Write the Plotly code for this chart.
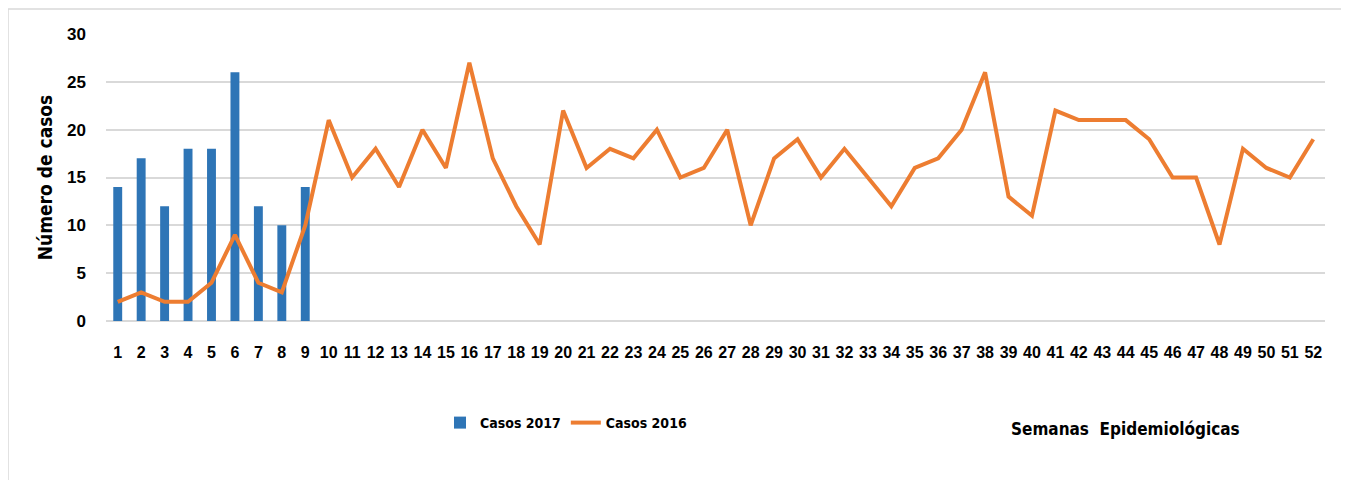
import plotly.graph_objects as go

weeks = [str(i) for i in range(1, 53)]
casos_2017 = [14, 17, 12, 18, 18, 26, 12, 10, 14]
casos_2016 = [2, 3, 2, 2, 4, 9, 4, 3, 10, 21, 15, 18, 14, 20, 16, 27, 17, 12, 8, 22,
              16, 18, 17, 20, 15, 16, 20, 10, 17, 19, 15, 18, 15, 12, 16, 17, 20, 26, 13, 11,
              22, 21, 21, 21, 19, 15, 15, 8, 18, 16, 15, 19]
y_ticks = [0, 5, 10, 15, 20, 25, 30]

# page body has an 8px margin: work in reference pixel coordinates, shift by 8
OFF = 8
W, H = 1349 - OFF, 480 - OFF
L, R, T, B = 106 - OFF, 24, 34 - OFF, 159
pw, ph = W - L - R, H - T - B

def px(x):
    return (x - OFF - L) / pw

def py(y):
    return (H - B - (y - OFF)) / ph

FONT = "Liberation Sans, Arial, sans-serif"
CFONT = "DejaVu Sans Condensed, Liberation Sans, sans-serif"

fig = go.Figure()
fig.add_trace(go.Bar(x=weeks[:len(casos_2017)], y=casos_2017, name="<b>Casos 2017</b>",
                     marker=dict(color="#2e75b6", line=dict(width=0)), width=0.38))
fig.add_trace(go.Scatter(x=weeks, y=casos_2016, name="<b>Casos 2016</b>", mode="lines",
                         line=dict(color="#ed7d31", width=4)))

fig.update_layout(
    width=W, height=H,
    margin=dict(l=L, r=R, t=T, b=B),
    paper_bgcolor="white", plot_bgcolor="white",
    font=dict(family=FONT, color="black", size=16),
    showlegend=True,
    legend=dict(orientation="h", x=px(440), y=py(423), xanchor="left", yanchor="middle",
                font=dict(family=CFONT, size=14, color="black"), itemwidth=30,
                bgcolor="rgba(0,0,0,0)", traceorder="normal"),
    xaxis=dict(type="category", categoryorder="array", categoryarray=weeks,
               range=[-0.5, 51.5], showgrid=False, showline=False, ticks="",
               tickfont=dict(family=FONT, size=16, color="black", weight="bold"),
               ticklabelstandoff=20),
    yaxis=dict(range=[0, 30], tickvals=y_ticks, showgrid=True, gridcolor="#d9d9d9",
               gridwidth=1.5, zeroline=True, zerolinecolor="#d9d9d9", zerolinewidth=1.5,
               showline=False, ticks="",
               tickfont=dict(family=FONT, size=17, color="black", weight="bold"),
               ticklabelstandoff=19,
               title=dict(text="<b>Número de casos</b>", font=dict(family=CFONT, size=19, color="black"),
                          standoff=9)),
    bargap=0.6,
)

fig.add_annotation(text="<b>Semanas  Epidemiológicas</b>", xref="paper", yref="paper",
                   x=px(1125), y=py(429), xanchor="center", yanchor="middle", showarrow=False,
                   font=dict(family=CFONT, size=17, color="black"))

# faint background decoration above / left of the frame
def path(points):
    return "M " + " L ".join(f"{px(a)},{py(b)}" for a, b in points) + " Z"

fig.add_shape(type="path", xref="paper", yref="paper",
              path=path([(84, 8), (163, 8), (168, 0), (90, 0)]),
              fillcolor="#ececec", line=dict(width=0), layer="below")
fig.add_shape(type="path", xref="paper", yref="paper",
              path=path([(8, 8), (12, 0), (18, 0), (14, 8)]),
              fillcolor="#ececec", line=dict(width=0), layer="below")

fig.add_shape(type="rect", xref="paper", yref="paper",
              x0=px(8), x1=px(1346), y0=py(484), y1=py(9),
              line=dict(color="#d9d9d9", width=1.5), fillcolor="rgba(0,0,0,0)", layer="below")

fig.write_html("out.html")
